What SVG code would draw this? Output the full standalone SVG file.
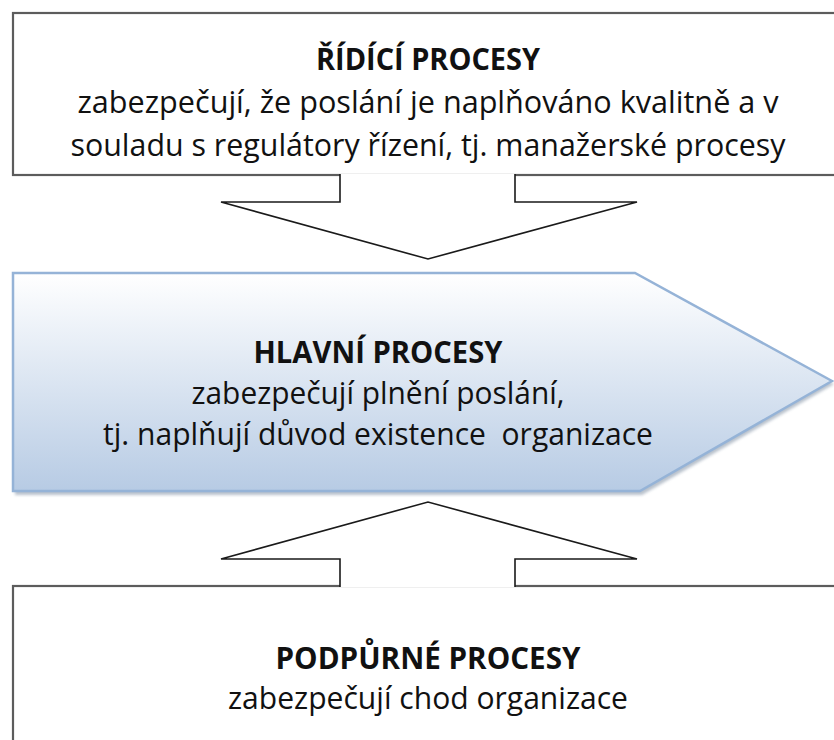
<svg xmlns="http://www.w3.org/2000/svg" width="834" height="740" viewBox="0 0 834 740">
  <style>
    .box { fill: #ffffff; stroke: #5c5c5c; stroke-width: 2.2; }
    .arrow { fill: #ffffff; stroke: #1a1a1a; stroke-width: 1.6; stroke-linejoin: miter; }
    .title { font-family: "Open Sans", "Noto Sans", "Liberation Sans", sans-serif; font-size: 31px; font-weight: bold; fill: #111111; text-anchor: middle; }
    .body { font-family: "Open Sans", "Noto Sans", "Liberation Sans", sans-serif; font-size: 31px; fill: #111111; text-anchor: middle; }
  </style>
  <defs>
    <linearGradient id="mainFill" x1="0" y1="0" x2="0" y2="1">
      <stop offset="0" stop-color="#ffffff"/>
      <stop offset="1" stop-color="#b7cbe4"/>
    </linearGradient>
    <filter id="soft" x="-5%" y="-5%" width="110%" height="115%">
      <feGaussianBlur stdDeviation="1.5"/>
    </filter>
  </defs>

  <rect width="834" height="740" fill="#ffffff"/>

  <!-- management processes -->
  <g id="ridici-procesy">
    <rect class="box" x="13" y="13" width="840" height="162"/>
    <text class="title" x="428" y="70" textLength="224" lengthAdjust="spacingAndGlyphs">ŘÍDÍCÍ PROCESY</text>
    <text class="body" x="428" y="113" textLength="701" lengthAdjust="spacingAndGlyphs">zabezpečují, že poslání je naplňováno kvalitně a v</text>
    <text class="body" x="428" y="156" textLength="715" lengthAdjust="spacingAndGlyphs">souladu s regulátory řízení, tj. manažerské procesy</text>
  </g>

  <!-- core processes -->
  <g id="hlavni-procesy">
    <polygon points="15,277 637,277 834,384 642,495 15,495" fill="#7f8fa3" opacity="0.55" filter="url(#soft)"/>
    <polygon points="13,273 635,273 832,381 640,491 13,491" fill="url(#mainFill)" stroke="#95b3d7" stroke-width="2.5" stroke-linejoin="miter"/>
    <text class="title" x="378" y="363" textLength="249" lengthAdjust="spacingAndGlyphs">HLAVNÍ PROCESY</text>
    <text class="body" x="378" y="404" textLength="373" lengthAdjust="spacingAndGlyphs">zabezpečují plnění poslání,</text>
    <text class="body" x="378" y="445" textLength="550" lengthAdjust="spacingAndGlyphs" xml:space="preserve">tj. naplňují důvod existence  organizace</text>
  </g>

  <!-- support processes -->
  <g id="podpurne-procesy">
    <rect class="box" x="13" y="586" width="840" height="170"/>
    <text class="title" x="428" y="669" textLength="305" lengthAdjust="spacingAndGlyphs">PODPŮRNÉ PROCESY</text>
    <text class="body" x="428" y="709" textLength="400" lengthAdjust="spacingAndGlyphs">zabezpečují chod organizace</text>
  </g>

  <!-- block arrows between the levels -->
  <g id="connectors">
    <path class="arrow" d="M340,174 V202 H221 L428,259 L637,202 H515 V174"/>
    <path class="arrow" d="M340,587 V559 H221 L428,502 L637,559 H515 V587"/>
  </g>
</svg>
